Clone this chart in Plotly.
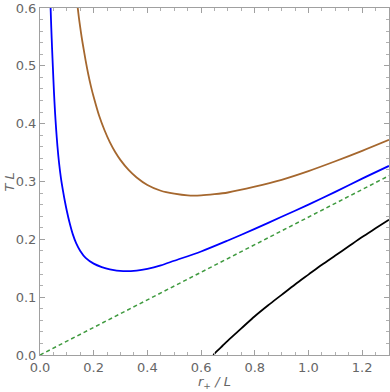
import plotly.graph_objects as go

# values (T L vs r_+ / L)
r_brown = [0.138, 0.145, 0.150, 0.155, 0.160, 0.170, 0.180, 0.190, 0.200, 0.220, 0.240, 0.260,
           0.280, 0.300, 0.330, 0.360, 0.400, 0.450, 0.500, 0.550, 0.600, 0.650, 0.700, 0.800,
           0.900, 1.000, 1.100, 1.200, 1.300]
t_brown = [0.610, 0.583, 0.566, 0.550, 0.536, 0.509, 0.485, 0.464, 0.446, 0.414, 0.389, 0.368,
           0.351, 0.337, 0.320, 0.307, 0.294, 0.284, 0.279, 0.276, 0.276, 0.278, 0.281, 0.291,
           0.303, 0.318, 0.335, 0.353, 0.372]

r_blue = [0.038, 0.040, 0.042, 0.045, 0.048, 0.052, 0.056, 0.060, 0.065, 0.071, 0.078, 0.086,
          0.093, 0.100, 0.110, 0.122, 0.135, 0.150, 0.170, 0.200, 0.230, 0.260, 0.310, 0.360,
          0.400, 0.450, 0.500, 0.600, 0.700, 0.800, 0.900, 1.000, 1.100, 1.200, 1.300]
t_blue = [0.620, 0.593, 0.566, 0.530, 0.497, 0.455, 0.420, 0.391, 0.361, 0.332, 0.306, 0.283,
          0.265, 0.249, 0.229, 0.209, 0.193, 0.180, 0.168, 0.158, 0.152, 0.148, 0.145, 0.146,
          0.149, 0.155, 0.163, 0.179, 0.198, 0.218, 0.239, 0.260, 0.282, 0.305, 0.327]

r_green = [0.0, 1.3]
t_green = [0.0, 0.310]

r_black = [0.6455, 0.66, 0.68, 0.70, 0.75, 0.80, 0.85, 0.90, 0.95, 1.00, 1.05, 1.10, 1.15,
           1.20, 1.25, 1.30]
t_black = [0.0, 0.007, 0.016, 0.025, 0.046, 0.067, 0.086, 0.104, 0.122, 0.139, 0.156, 0.172,
           0.188, 0.204, 0.219, 0.234]

y_ticks = [0.0, 0.1, 0.2, 0.3, 0.4, 0.5, 0.6]
x_ticks = [0.0, 0.2, 0.4, 0.6, 0.8, 1.0, 1.2]

fig = go.Figure()
fig.add_trace(go.Scatter(x=r_brown, y=t_brown, mode='lines',
                         line=dict(color='#a5672e', width=1.8, shape='spline', smoothing=0.8)))
fig.add_trace(go.Scatter(x=r_blue, y=t_blue, mode='lines',
                         line=dict(color='#0000ff', width=1.8, shape='spline', smoothing=0.8)))
fig.add_trace(go.Scatter(x=r_green, y=t_green, mode='lines',
                         line=dict(color='#3f9a3f', width=1.5, dash='4px,3px')))
fig.add_trace(go.Scatter(x=r_black, y=t_black, mode='lines',
                         line=dict(color='#000000', width=1.8, shape='spline', smoothing=0.8)))

axis_style = dict(showline=True, linecolor='#a0a0a0', linewidth=1, mirror='ticks', automargin=False,
                  ticks='inside', ticklen=5, tickcolor='#a0a0a0', showgrid=False, zeroline=False,
                  tickfont=dict(family='DejaVu Sans', size=13, color='#666666'))

fig.update_xaxes(range=[0, 1.3], tickvals=x_ticks, ticktext=['%.1f' % v for v in x_ticks],
                 minor=dict(ticks='inside', dtick=0.05, ticklen=3, tickcolor='#b0b0b0'), **axis_style)
fig.update_yaxes(range=[0, 0.6], tickvals=y_ticks, ticktext=['%.1f' % v for v in y_ticks],
                 minor=dict(ticks='inside', dtick=0.02, ticklen=3, tickcolor='#b0b0b0'), **axis_style)

fig.add_annotation(text='<i>r</i><sub>+</sub> <i>/ L</i>', xref='paper', yref='paper', x=0.5, y=-0.08,
                   showarrow=False, yanchor='middle', font=dict(family='DejaVu Sans', size=13, color='#666666'))
fig.add_annotation(text='<i>T L</i>', xref='paper', yref='paper', x=-0.086, y=0.5, textangle=-90,
                   showarrow=False, xanchor='center', font=dict(family='DejaVu Sans', size=13, color='#666666'))

fig.update_layout(width=390, height=392, margin=dict(l=40, r=1, t=8, b=37, autoexpand=False),
                  plot_bgcolor='white', paper_bgcolor='white', showlegend=False)

# the page body has a default 8px margin; drop it so the figure fills the window
fig.write_html("out.html", config={'displayModeBar': False},
               post_script="document.body.style.margin='0';")
